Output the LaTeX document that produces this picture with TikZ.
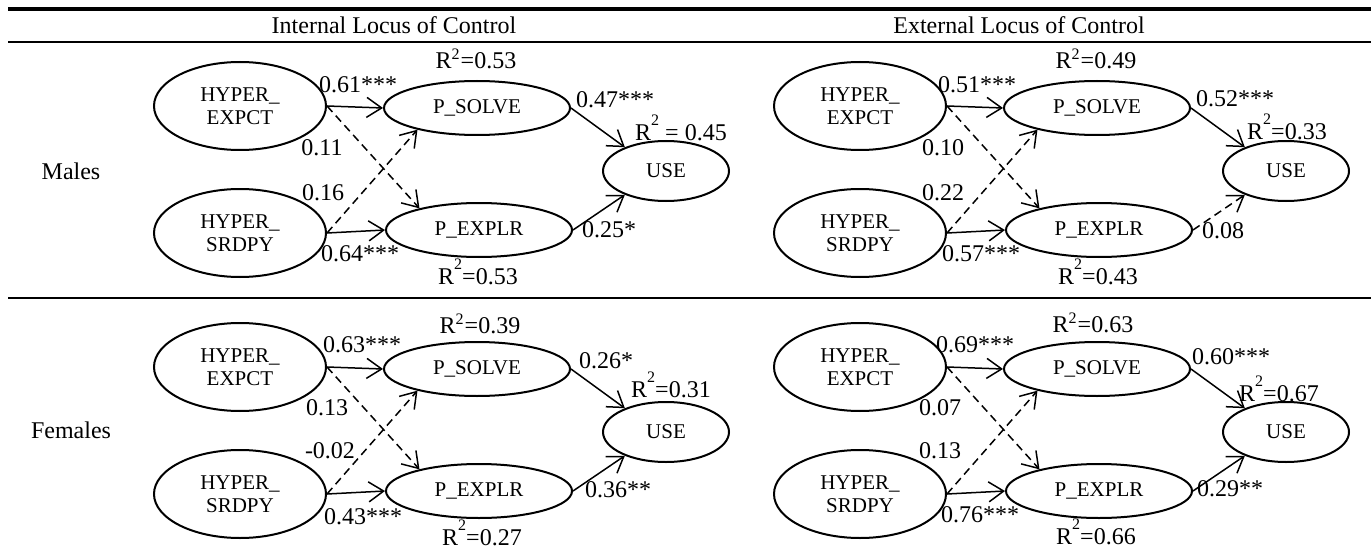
\documentclass[tikz,border=0pt]{standalone}
\usepackage{fontspec}
\setmainfont{Liberation Serif}
\usetikzlibrary{arrows.meta,shapes.geometric}

\begin{document}
\begin{tikzpicture}[x=0.5pt,y=-0.5pt,font=\fontsize{12}{14}\selectfont,
  latent/.style={draw,ellipse,line width=1pt,inner sep=0pt,align=center,
    minimum width=86pt,minimum height=44pt,font=\fontsize{10.5}{11.7}\selectfont},
  medi/.style={latent,minimum width=93pt,minimum height=27pt},
  outc/.style={latent,minimum width=63pt,minimum height=30pt},
  effect/.style={line width=0.75pt,-{Straight Barb[length=7.5pt,width=10pt]}},
  weakeffect/.style={effect,dash pattern=on 4pt off 2.5pt}]
  \useasboundingbox(0,0)rectangle(1371,556);
  \def\Rsq{R\raisebox{1.4ex}{\footnotesize 2}}
  \def\model#1#2{%
    \node[latent](#1E)at(240,106){HYPER\_\\EXPCT};
    \node[latent](#1R)at(240,233){HYPER\_\\SRDPY};
    \node[medi](#1S)at(477,108){P\_SOLVE};
    \node[medi](#1X)at(479,230){P\_EXPLR};
    \node[outc](#1U)at(666,171){USE};
    \draw[effect](#1E.east)--(#1S.west);
    \draw[weakeffect](#1E.east)--(#1X.160);
    \draw[weakeffect](#1R.east)--(#1S.200);
    \draw[effect](#1R.east)--(#1X.west);
    \draw[effect](#1S.east)--(#1U.150);
    \draw[#2](#1X.east)--(#1U.210);
  }
  % rules and headings
  \draw[line width=2pt](8,9)--(1371,9);
  \draw[line width=1pt](8,42)--(1371,42);
  \draw[line width=1pt](8,298)--(1371,298);
  \node(int)at(394,25){Internal Locus of Control};
  \node(ext)at(1019,25){External Locus of Control};
  \node(males)at(71,171){Males};
  \node(females)at(71,430){Females};
  % males, internal
  \model{mi}{effect}
  \node(mir2s)at(476,59){R\textsuperscript{2}=0.53};
  \node(mies)at(358,85){0.61***};
  \node(miex)at(322,148){0.11};
  \node(mirs)at(323,193){0.16};
  \node(mirx)at(360,254){0.64***};
  \node(mir2x)at(478,272){\Rsq=0.53};
  \node(misu)at(615,100){0.47***};
  \node(mir2u)at(681,128){\Rsq\ = 0.45};
  \node(mixu)at(609,230){0.25*};
  % males, external
  \begin{scope}[shift={(620,0)}]
    \model{me}{weakeffect}
    \node(mer2s)at(476,59){R\textsuperscript{2}=0.49};
    \node(mees)at(357,85){0.51***};
    \node(meex)at(323,148){0.10};
    \node(mers)at(323,193){0.22};
    \node(merx)at(361,254){0.57***};
    \node(mer2x)at(478,272){\Rsq=0.43};
    \node(mesu)at(615,99){0.52***};
    \node(mer2u)at(667,127){\Rsq=0.33};
    \node(mexu)at(603,231){0.08};
  \end{scope}
  % females, internal
  \begin{scope}[shift={(0,261)}]
    \model{fi}{effect}
    \node(fir2s)at(480,63){R\textsuperscript{2}=0.39};
    \node(fies)at(362,84){0.63***};
    \node(fiex)at(327,147){0.13};
    \node(firs)at(330,190){-0.02};
    \node(firx)at(363,256){0.43***};
    \node(fir2x)at(482,272){\Rsq=0.27};
    \node(fisu)at(606,100){0.26*};
    \node(fir2u)at(671,124){\Rsq=0.31};
    \node(fixu)at(618,229){0.36**};
  \end{scope}
  % females, external
  \begin{scope}[shift={(620,261)}]
    \model{fe}{effect}
    \node(fer2s)at(473,62){R\textsuperscript{2}=0.63};
    \node(fees)at(355,84){0.69***};
    \node(feex)at(320,147){0.07};
    \node(fers)at(320,190){0.13};
    \node(ferx)at(360,254){0.76***};
    \node(fer2x)at(476,271){\Rsq=0.66};
    \node(fesu)at(611,96){0.60***};
    \node(fer2u)at(659,128){\Rsq=0.67};
    \node(fexu)at(610,228){0.29**};
  \end{scope}
\end{tikzpicture}
\end{document}
